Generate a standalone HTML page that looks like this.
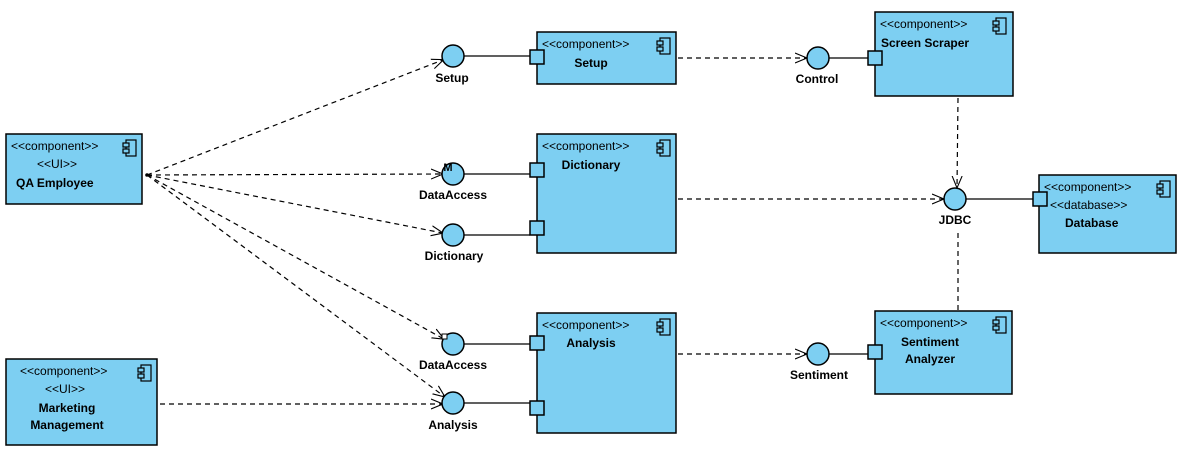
<!DOCTYPE html>
<html><head><meta charset="utf-8"><style>
html,body{margin:0;padding:0;background:#fff;}
svg{display:block;font-family:"Liberation Sans",Arial,sans-serif;}
.b{fill:#7dcff2;stroke:#000;stroke-width:1.5;}
.s{font-size:12px;}
.n{font-size:12px;font-weight:bold;}
.d{stroke:#000;stroke-width:1.2;stroke-dasharray:5,4;fill:none;}
.l{stroke:#000;stroke-width:1.3;fill:none;}
.lb{font-size:12px;font-weight:bold;text-anchor:middle;}
</style></head><body>
<svg width="1183" height="454" viewBox="0 0 1183 454" xmlns="http://www.w3.org/2000/svg">
<defs>
<marker id="a" markerUnits="userSpaceOnUse" markerWidth="14" markerHeight="12" refX="12" refY="6" orient="auto">
<path d="M0,1 L12,6 L0,11" fill="none" stroke="#000" stroke-width="1.1"/>
</marker>
<g id="ic"><rect x="-10" y="0" width="10" height="16" fill="none" stroke="#000" stroke-width="1.2"/><rect x="-13" y="3" width="6" height="4" fill="#7dcff2" stroke="#000" stroke-width="1.2"/><rect x="-13" y="9" width="6" height="4" fill="#7dcff2" stroke="#000" stroke-width="1.2"/></g>
</defs>

<path class="d" d="M147,175 L443.7,59.6" marker-end="url(#a)"/>
<path class="d" d="M147,175 L443,174" marker-end="url(#a)"/>
<path class="d" d="M147,175 L443.2,233.1" marker-end="url(#a)"/>
<path class="d" d="M147,175 L444.2,339.2" marker-end="url(#a)"/>
<path class="d" d="M147,175 L445,397" marker-end="url(#a)"/>
<path class="d" d="M160,404 L443,404" marker-end="url(#a)"/>
<path class="d" d="M678,58 L807,58" marker-end="url(#a)"/>
<path class="d" d="M678,199 L944,199" marker-end="url(#a)"/>
<path class="d" d="M958,98 L957,188" marker-end="url(#a)"/>
<path class="d" d="M678,354 L807,354" marker-end="url(#a)"/>
<path class="d" d="M958,310 L958,230"/>
<circle cx="147" cy="175" r="1.8" fill="#000"/>

<path class="l" d="M464,56 H530 M464,174 H530 M464,235 H530 M464,344 H530 M464,403 H530 M829,58 H868 M966,199 H1033 M829,354 H868"/>

<rect class="b" x="6" y="134" width="136" height="70"/>
<text class="s" x="11" y="150">&lt;&lt;component&gt;&gt;</text>
<text class="s" x="37" y="168">&lt;&lt;UI&gt;&gt;</text>
<text class="n" x="16" y="187">QA Employee</text>
<use href="#ic" x="136" y="140"/>

<rect class="b" x="6" y="359" width="151" height="86"/>
<text class="s" x="20" y="375">&lt;&lt;component&gt;&gt;</text>
<text class="s" x="45" y="393">&lt;&lt;UI&gt;&gt;</text>
<text class="n" x="67" y="412" text-anchor="middle">Marketing</text>
<text class="n" x="67" y="429" text-anchor="middle">Management</text>
<use href="#ic" x="151" y="365"/>

<rect class="b" x="537" y="32" width="139" height="52"/>
<text class="s" x="542" y="48">&lt;&lt;component&gt;&gt;</text>
<text class="n" x="591" y="67" text-anchor="middle">Setup</text>
<use href="#ic" x="670" y="38"/>
<rect class="b" x="530" y="50" width="14" height="14"/>

<rect class="b" x="537" y="134" width="139" height="119"/>
<text class="s" x="542" y="150">&lt;&lt;component&gt;&gt;</text>
<text class="n" x="591" y="169" text-anchor="middle">Dictionary</text>
<use href="#ic" x="670" y="140"/>
<rect class="b" x="530" y="163" width="14" height="14"/>
<rect class="b" x="530" y="221" width="14" height="14"/>

<rect class="b" x="537" y="313" width="139" height="120"/>
<text class="s" x="542" y="329">&lt;&lt;component&gt;&gt;</text>
<text class="n" x="591" y="347" text-anchor="middle">Analysis</text>
<use href="#ic" x="670" y="319"/>
<rect class="b" x="530" y="336" width="14" height="14"/>
<rect class="b" x="530" y="401" width="14" height="14"/>

<rect class="b" x="875" y="12" width="138" height="84"/>
<text class="s" x="880" y="28">&lt;&lt;component&gt;&gt;</text>
<text class="n" x="881" y="47">Screen Scraper</text>
<use href="#ic" x="1006" y="18"/>
<rect class="b" x="868" y="51" width="14" height="14"/>

<rect class="b" x="1039" y="175" width="137" height="78"/>
<text class="s" x="1044" y="191">&lt;&lt;component&gt;&gt;</text>
<text class="s" x="1050" y="209">&lt;&lt;database&gt;&gt;</text>
<text class="n" x="1065" y="227">Database</text>
<use href="#ic" x="1170" y="181"/>
<rect class="b" x="1033" y="192" width="14" height="14"/>

<rect class="b" x="875" y="311" width="137" height="83"/>
<text class="s" x="880" y="327">&lt;&lt;component&gt;&gt;</text>
<text class="n" x="930" y="346" text-anchor="middle">Sentiment</text>
<text class="n" x="930" y="363" text-anchor="middle">Analyzer</text>
<use href="#ic" x="1006" y="317"/>
<rect class="b" x="868" y="345" width="14" height="14"/>

<circle class="b" cx="453" cy="56" r="11"/>
<circle class="b" cx="453" cy="174" r="11"/>
<circle class="b" cx="453" cy="235" r="11"/>
<circle class="b" cx="453" cy="344" r="11"/>
<circle class="b" cx="453" cy="403" r="11"/>
<circle class="b" cx="818" cy="58" r="11"/>
<circle class="b" cx="955" cy="199" r="11"/>
<circle class="b" cx="818" cy="354" r="11"/>
<text x="448" y="171" font-size="11" font-weight="bold" text-anchor="middle">M</text>
<rect x="442" y="334" width="5" height="5" fill="#fff" stroke="#000" stroke-width="1"/>

<text class="lb" x="452" y="82">Setup</text>
<text class="lb" x="453" y="199">DataAccess</text>
<text class="lb" x="454" y="260">Dictionary</text>
<text class="lb" x="453" y="369">DataAccess</text>
<text class="lb" x="453" y="429">Analysis</text>
<text class="lb" x="817" y="83">Control</text>
<text class="lb" x="955" y="224">JDBC</text>
<text class="lb" x="819" y="379">Sentiment</text>
</svg>
</body></html>
